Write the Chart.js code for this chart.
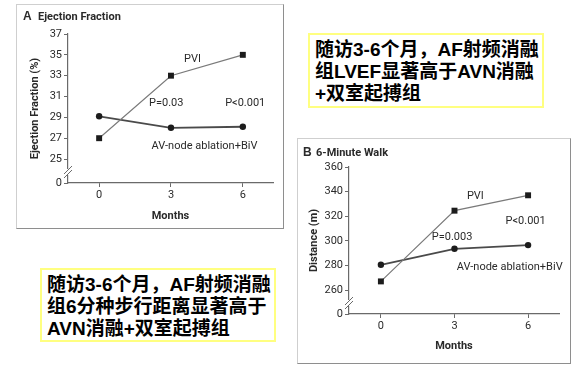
<!DOCTYPE html>
<html lang="zh">
<head>
  <meta charset="UTF-8" />
  <title>PVI vs AV-node ablation</title>
  <script src="https://cdn.jsdelivr.net/npm/chart.js"></script>
  <style>
    body {
      margin: 0;
      width: 576px;
      height: 375px;
      background: #fff;
      position: relative;
      overflow: hidden;
    }

    .panel {
      position: absolute;
      box-sizing: border-box;
      border-top: 1px solid #cfcfcf;
      border-left: 1px solid #cfcfcf;
      border-right: 1.5px solid #8e8e8e;
      border-bottom: 1.5px solid #8e8e8e;
    }

    canvas {
      position: absolute;
    }

    .note {
      position: absolute;
      box-sizing: border-box;
      border: 2px solid #ffff80;
      background: #fff;
      font-family: "Liberation Sans", "Noto Sans CJK SC", sans-serif;
      font-weight: bold;
      font-size: 19px;
      line-height: 22px;
      color: #000;
      white-space: nowrap;
    }
  </style>
</head>
<body>
  <div class="panel" style="left:16px; top:4px; width:268px; height:225px;"></div>
  <canvas id="chartA" width="268" height="225" style="left:16px; top:4px;"></canvas>

  <div class="panel" style="left:297px; top:138px; width:274px; height:226px;"></div>
  <canvas id="chartB" width="274" height="226" style="left:297px; top:138px;"></canvas>

  <div class="note" style="left:308px; top:33px; width:236px; height:75px; padding:4px 0 0 5px;">
    随访3-6个月，AF射频消融<br>组LVEF显著高于AVN消融<br>+双室起搏组
  </div>
  <div class="note" style="left:40px; top:268px; width:236px; height:74px; padding:4px 0 0 5px;">
    随访3-6个月，AF射频消融<br>组6分种步行距离显著高于<br>AVN消融+双室起搏组
  </div>

  <script>
    // === Data ===
    const months = [0, 3, 6];

    const efPVI = [27, 33, 35];
    const efAVN = [29.1, 28, 28.1];
    const efTicks = [25, 27, 29, 31, 33, 35, 37];

    const walkPVI = [267, 324.5, 337];
    const walkAVN = [280.5, 293.5, 296.5];
    const walkTicks = [260, 280, 300, 320, 340, 360];

    const breakLabel = '0';
    const pviLabel = 'PVI';
    const avnLabel = 'AV-node ablation+BiV';

    // === Style ===
    const axisColor = '#6a6a6a';
    const textColor = '#2a2a2a';
    const tickFont = { family: '"Liberation Sans Narrow", "Roboto", sans-serif', size: 11 };
    const boldFont = { family: '"Liberation Sans Narrow", "Roboto", sans-serif', size: 11, weight: 'bold' };

    // === Panel titles, p-value labels and the axis break ===
    const notesPlugin = {
      id: 'notes',
      afterDraw(chart, args, opts) {
        const { ctx, chartArea, scales } = chart;
        ctx.save();
        ctx.fillStyle = textColor;
        ctx.textBaseline = 'middle';

        // panel title
        ctx.textAlign = 'left';
        ctx.font = 'bold 12px "Liberation Sans", sans-serif';
        ctx.fillText(opts.letter, opts.titleX, opts.titleY);
        ctx.font = 'bold 11px "Liberation Sans Narrow", "Roboto", sans-serif';
        ctx.fillText(opts.title, opts.titleX + opts.titleGap, opts.titleY);

        // labels placed in data coordinates
        ctx.textAlign = 'center';
        ctx.font = '11px "Liberation Sans Narrow", "Roboto", sans-serif';
        opts.items.forEach(it => {
          ctx.fillText(it.text, scales.x.getPixelForValue(it.x), scales.y.getPixelForValue(it.y));
        });

        // "//" break on the y axis
        const x0 = chartArea.left;
        const yb = (scales.y.getPixelForValue(opts.breakAt) + chartArea.bottom) / 2 + 1;
        ctx.strokeStyle = '#ffffff';
        ctx.lineWidth = 3;
        ctx.beginPath();
        ctx.moveTo(x0, yb - 3);
        ctx.lineTo(x0, yb + 3);
        ctx.stroke();
        ctx.strokeStyle = axisColor;
        ctx.lineWidth = 1;
        [-2, 2].forEach(d => {
          ctx.beginPath();
          ctx.moveTo(x0 - 4, yb + d + 4);
          ctx.lineTo(x0 + 4, yb + d - 4);
          ctx.stroke();
        });
        ctx.restore();
      }
    };

    function makeChart(id, o) {
      const points = arr => months.map((m, i) => ({ x: m, y: arr[i] }));
      return new Chart(document.getElementById(id), {
        type: 'line',
        data: {
          datasets: [
            {
              label: pviLabel,
              data: points(o.pvi),
              borderColor: '#7a7a7a',
              borderWidth: 1.2,
              pointStyle: 'rect',
              pointRadius: 4.2,
              pointBackgroundColor: '#1c1c1c',
              pointBorderColor: '#1c1c1c',
              pointBorderWidth: 0
            },
            {
              label: avnLabel,
              data: points(o.avn),
              borderColor: '#4a4a4a',
              borderWidth: 1.8,
              pointStyle: 'circle',
              pointRadius: 3.2,
              pointBackgroundColor: '#1c1c1c',
              pointBorderColor: '#1c1c1c',
              pointBorderWidth: 0
            }
          ]
        },
        options: {
          responsive: false,
          animation: false,
          devicePixelRatio: 1,
          layout: { padding: { left: 0, top: o.top, right: o.right, bottom: 0 } },
          plugins: {
            legend: { display: false },
            tooltip: { enabled: false },
            notes: o.notes
          },
          scales: {
            x: {
              type: 'linear',
              min: -1.3,
              max: 7.26,
              afterBuildTicks: s => { s.ticks = months.map(v => ({ value: v })); },
              afterFit: s => { s.height = o.xHeight; },
              grid: { drawOnChartArea: false, tickLength: 4, color: axisColor },
              border: { color: axisColor, width: 1.2 },
              ticks: { font: tickFont, color: textColor, padding: 2 },
              title: {
                display: true, text: 'Months', font: boldFont, color: textColor,
                padding: { top: 0, bottom: o.xTitlePad }
              }
            },
            y: {
              type: 'linear',
              min: o.min,
              max: o.max,
              afterBuildTicks: s => { s.ticks = [o.min, ...o.ticks].map(v => ({ value: v })); },
              afterFit: s => { s.width = 52; },
              grid: { drawOnChartArea: false, tickLength: 4, color: axisColor },
              border: { color: axisColor, width: 1.2 },
              ticks: {
                font: tickFont, color: textColor, padding: 2,
                callback: v => (v === o.min ? breakLabel : v)
              },
              title: {
                display: true, text: o.yTitle, font: boldFont, color: textColor,
                padding: { top: o.yTitlePad, bottom: 0 }
              }
            }
          }
        },
        plugins: [notesPlugin]
      });
    }

    makeChart('chartA', {
      pvi: efPVI, avn: efAVN, ticks: efTicks,
      min: 22.7, max: 37,
      top: 30, right: 11, xHeight: 46, xTitlePad: 6, yTitlePad: 13,
      yTitle: 'Ejection Fraction (%)',
      notes: {
        letter: 'A', title: 'Ejection Fraction', titleX: 7, titleY: 13, titleGap: 15,
        breakAt: efTicks[0],
        items: [
          { text: pviLabel, x: 3.9, y: 34.6 },
          { text: 'P=0.03', x: 2.8, y: 30.4 },
          { text: 'P<0.001', x: 6.1, y: 30.4 },
          { text: avnLabel, x: 4.4, y: 26.25 }
        ]
      }
    });

    makeChart('chartB', {
      pvi: walkPVI, avn: walkAVN, ticks: walkTicks,
      min: 240.5, max: 360,
      top: 29, right: 12, xHeight: 50, xTitlePad: 11, yTitlePad: 11,
      yTitle: 'Distance (m)',
      notes: {
        letter: 'B', title: '6-Minute Walk', titleX: 6, titleY: 15, titleGap: 13,
        breakAt: walkTicks[0],
        items: [
          { text: pviLabel, x: 3.85, y: 336.4 },
          { text: 'P<0.001', x: 5.9, y: 316 },
          { text: 'P=0.003', x: 2.9, y: 303 },
          { text: avnLabel, x: 5.25, y: 278.7 }
        ]
      }
    });
  </script>
</body>
</html>
